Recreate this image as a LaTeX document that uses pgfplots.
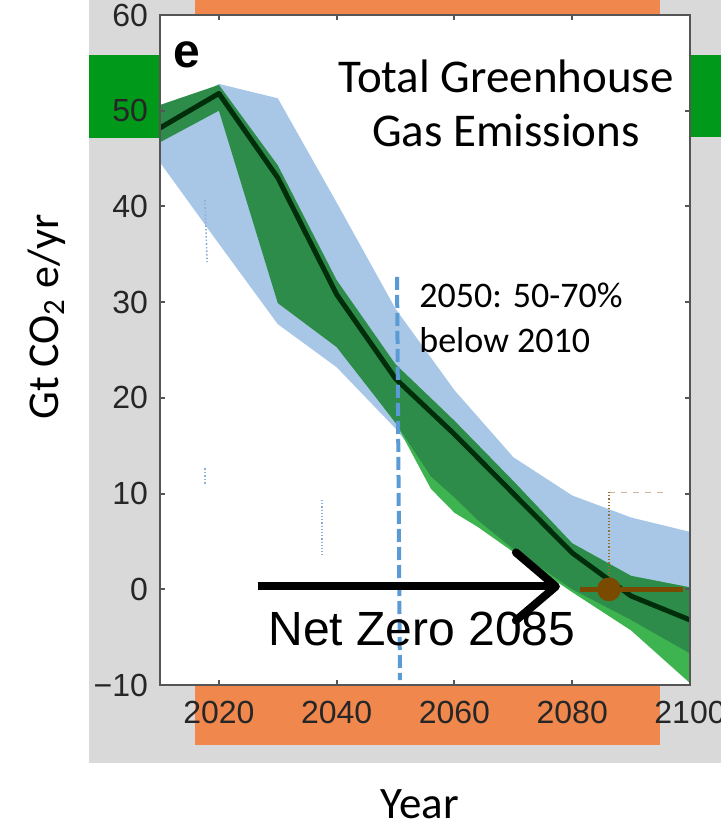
\documentclass[border=0pt]{standalone}
\usepackage{pgfplots}
\pgfplotsset{compat=1.18}
\usepackage{fontspec}
\setmainfont{Carlito}
\newfontfamily\arialf{Liberation Sans}
\usetikzlibrary{arrows.meta}
\definecolor{bgray}{RGB}{217,217,217}
\definecolor{orangeb}{RGB}{240,136,78}
\definecolor{greenb}{RGB}{0,153,25}
\definecolor{bandblue}{RGB}{168,199,230}
\definecolor{darkg}{RGB}{46,140,74}
\definecolor{lightg}{RGB}{62,180,80}
\definecolor{medline}{RGB}{0,45,10}
\definecolor{brownc}{RGB}{122,74,0}
\definecolor{dashblue}{RGB}{91,155,213}
\definecolor{axgray}{RGB}{85,85,85}
\definecolor{faintblue}{RGB}{140,178,218}

\begin{document}
\begin{tikzpicture}
\begin{axis}[
 scale only axis, width=265pt, height=335pt,
 xmin=2010, xmax=2100, ymin=-10, ymax=60,
 clip=false, axis on top,
 axis line style={axgray, line width=1pt},
 tick style={axgray, line width=1pt},
 tick align=inside, major tick length=2.5pt,
 xtick={2020,2040,2060,2080,2100},
 xticklabels={2020,2040,2060,2080,2100},
 ytick={-10,0,10,20,30,40,50,60},
 yticklabels={−10,0,10,20,30,40,50,60},
 ticklabel style={font=\arialf\fontsize{16}{16}\selectfont, text=black!85},
 yticklabel style={xshift=-2.5pt},
 xticklabel style={yshift=-4.5pt},
]
% backgrounds
\fill[bgray] (axis cs:1997.94,61.6) rectangle (axis cs:2105.3,-18.15);
\fill[orangeb] (axis cs:2015.94,61.6) rectangle (axis cs:2094.9,60);
\fill[orangeb] (axis cs:2015.94,-10) rectangle (axis cs:2094.9,-16.27);
\fill[greenb] (axis cs:1997.94,55.82) rectangle (axis cs:2010,47.15);
\fill[greenb] (axis cs:2100,55.82) rectangle (axis cs:2105.3,47.25);
\fill[white] (axis cs:2010,60) rectangle (axis cs:2100,-10);
\coordinate (BL) at (axis cs:1982.83,-25.04);
\coordinate (TR) at (axis cs:2105.26,61.567);

% blue range
\addplot[fill=bandblue, draw=none] coordinates {
 (2010,49.5) (2020,52.8) (2030,51.3) (2040,40.4) (2050,29.3) (2060,20.8)
 (2070,13.8) (2080,9.8) (2090,7.5) (2100,6.0)
 (2100,0.2) (2090,1.3) (2080,3.5) (2070,4.5) (2060,9.0) (2050,16.8)
 (2040,23.2) (2030,27.7) (2020,36.1) (2010,44.6)} -- cycle;

% light green range
\addplot[fill=lightg, draw=none] coordinates {
 (2048,25.0) (2050,23.5) (2060,17.6) (2070,11.3) (2080,4.8) (2090,1.4) (2100,0.2)
 (2100,-9.8) (2090,-4.3) (2080,-0.3) (2070,3.9) (2064,6.5) (2060,8.0)
 (2056,10.5) (2050,17.4) (2048,19.0)} -- cycle;

% dark green range
\addplot[fill=darkg, draw=none] coordinates {
 (2010,50.6) (2020,52.7) (2030,44.3) (2040,32.3) (2050,23.5) (2060,17.6)
 (2070,11.3) (2080,4.8) (2090,1.4) (2100,0.2)
 (2100,-6.7) (2090,-3.2) (2080,0.0) (2070,4.2) (2064,7.2) (2060,9.6)
 (2056,11.8) (2050,17.4) (2040,25.3) (2030,29.9) (2020,50.0) (2010,46.7)} -- cycle;

% median
\addplot[medline, line width=2.5pt, line join=round] coordinates {
 (2010,48.2) (2020,51.8) (2030,43.0) (2040,30.8) (2050,22.0) (2060,16.2)
 (2070,10.0) (2080,3.8) (2090,-0.7) (2100,-3.2)};

% faint artefacts
\addplot[faintblue, densely dotted, line width=0.8pt] coordinates {(2017.64,40.67) (2018.0,34.19)};
\addplot[faintblue, densely dotted, line width=0.8pt] coordinates {(2017.64,12.67) (2017.64,10.9)};
\addplot[faintblue, densely dotted, line width=0.6pt] coordinates {(2037.5,9.33) (2037.5,3.58)};

% net zero marker
\addplot[brownc!40, dashed, line width=0.4pt] coordinates {(2086.24,10.16) (2096,10.16)};
\addplot[brownc!80, densely dotted, line width=0.6pt] coordinates {(2086.24,10.16) (2086.24,0)};
\addplot[brownc, line width=2.5pt] coordinates {(2081.3,0) (2098.8,0)};
\addplot[brownc, only marks, mark=*, mark size=5.75pt] coordinates {(2086.24,0)};

% dashed 2050 line
\draw[dashblue, line width=2pt, dash pattern=on 6.5pt off 2.5pt] (axis cs:2050.25,32.63) -- (axis cs:2050.75,-9.48);

% arrow
\draw[black, line width=4pt, -{Straight Barb[length=20pt, width=34pt, round]}] (axis cs:2026.6,0.3) -- (axis cs:2077.9,0.3);

% texts
\node[font=\arialf\bfseries\fontsize{24}{24}\selectfont] at (axis cs:2014.58,55.82) {e};
\node[anchor=base, inner sep=0, font=\fontsize{23.5}{27}\selectfont] at (axis cs:2068.75,51.95) {Total Greenhouse};
\node[anchor=base, inner sep=0, font=\fontsize{23.5}{27}\selectfont] at (axis cs:2068.75,46.21) {Gas Emissions};
\node[anchor=base west, inner sep=0, font=\fontsize{18}{18}\selectfont] at (axis cs:2053.98,29.49) {2050: 50-70\%};
\node[anchor=base west, inner sep=0, font=\fontsize{18}{18}\selectfont] at (axis cs:2053.98,24.79) {below 2010};
\node[anchor=base west, inner sep=0, font=\arialf\fontsize{24}{24}\selectfont] at (axis cs:2028.34,-5.82) {Net Zero 2085};
\node[anchor=base, inner sep=0, font=\fontsize{22.5}{22.5}\selectfont] at (axis cs:2054.15,-23.95) {Year};
\node[anchor=base, inner sep=0, rotate=90, font=\fontsize{22}{22}\selectfont] at (axis cs:1992.68,28.45) {Gt CO\textsubscript{2} e/yr};
\end{axis}
\pgfresetboundingbox
\useasboundingbox (BL) rectangle (TR);
\end{tikzpicture}
\end{document}
